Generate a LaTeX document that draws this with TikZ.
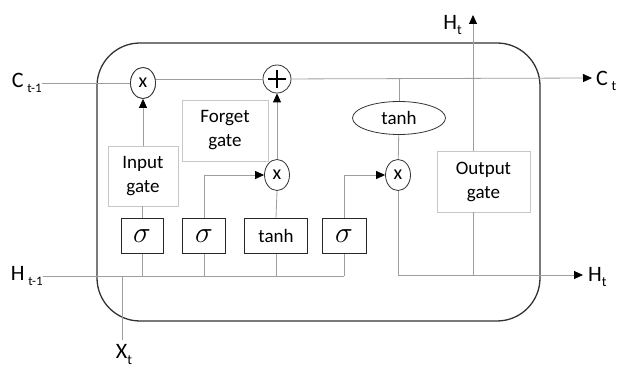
\documentclass[tikz,border=0pt]{standalone}
\usepackage{fontspec}
\setmainfont{Carlito}
\usetikzlibrary{arrows.meta,shapes.geometric,calc}
\begin{document}
\begin{tikzpicture}[x=1pt,y=-1pt,
  wire/.style={draw=black!38, line width=0.8pt},
  arr/.style={wire, -{Triangle[color=black,length=9pt,width=8pt]}},
  mult/.style={ellipse, draw=black!80, line width=0.8pt, fill=white, minimum width=25pt, minimum height=31pt, inner sep=0pt, font=\fontsize{20}{20}\selectfont},
  actbox/.style={rectangle, draw=black!85, line width=1pt, fill=white, minimum height=35pt, inner sep=0pt},
  gatebox/.style={rectangle, draw=black!22, line width=0.8pt, fill=white, inner sep=0pt, align=center, font=\fontsize{19}{24}\selectfont},
  lbl/.style={inner sep=0pt, font=\fontsize{22}{22}\selectfont},
  sig/.style={font=\fontsize{24}{24}\selectfont}
]
\useasboundingbox (0,0) rectangle (630,374);
\draw[black!80, line width=1.3pt, rounded corners=43pt] (97,43) rectangle (540,321);

% free ends
\coordinate (Cin) at (42,83);
\coordinate (Cout) at (592,78);
\coordinate (Hin) at (43,276);
\coordinate (Hout) at (583,275);
\coordinate (Htop) at (473,15);
\coordinate (Xin) at (122,340);
\coordinate (tj) at (399,78);

% nodes
\node[mult] (m1) at (143,83) {x};
\node[mult, minimum width=28pt, minimum height=28pt] (pl) at (277,79) {};
\node[mult] (m2) at (277,175) {x};
\node[mult] (m3) at (398,175) {x};
\node[ellipse, draw=black!80, line width=0.8pt, fill=white, minimum width=93pt, minimum height=33pt, inner sep=0pt, font=\fontsize{19}{19}\selectfont] (th) at (399,118) {tanh};

\node[actbox, minimum width=42pt, sig] (s1) at (142,236) {\scalebox{1.2}{$\sigma$}};
\node[actbox, minimum width=43pt, sig] (s2) at (204,236) {\scalebox{1.2}{$\sigma$}};
\node[actbox, minimum width=63pt, font=\fontsize{19}{19}\selectfont] (tb) at (276,236) {tanh};
\node[actbox, minimum width=44pt, sig] (s4) at (344,236) {\scalebox{1.2}{$\sigma$}};

\node[gatebox, minimum width=70pt, minimum height=60pt] (ig) at (143,176) {Input\\gate};
\node[gatebox, minimum width=86pt, minimum height=61pt] (fg) at (225,130.5) {Forget\\gate};
\node[gatebox, minimum width=93pt, minimum height=61pt] (og) at (483.5,181.5) {Output\\gate};

% wires
\draw[wire] (Cin) -- (m1);
\draw[wire] (m1.east |- pl) -- (pl);
\draw[arr] (pl) -- (Cout);
\draw[wire] (tj) -- (th);
\draw[wire] (th) -- (m3);
\draw[arr] (m3.south) |- (Hout);
\draw[wire] (Htop |- og.south) -- (Htop |- Hout);
\draw[arr] (Htop |- og.north) -- (Htop);
\draw[wire] (Hin) -- (s4.south |- Hin);
\draw[wire] (s1.south) -- (s1.south |- Hin);
\draw[wire] (s2.south) -- (s2.south |- Hin);
\draw[wire] (tb.south) -- (tb.south |- Hin);
\draw[wire] (s4.south) -- (s4.south |- Hin);
\draw[wire] (Xin) -- (Xin |- Hin);
\draw[wire] (s1.north) -- (s1.north |- ig.south);
\draw[arr] (m1.south |- ig.north) -- (m1.south);
\draw[arr] (s2.north) |- (m2.west);
\draw[wire] (tb.north) -- (m2.south);
\draw[arr] (m2.north) -- (pl.south);
\draw[arr] (s4.north) |- (m3.west);

% redraw m1 over the wire end
\node[mult] at (m1) {x};

% plus sign
\draw[black, line width=1.3pt] ($(pl.center)+(-9,0)$) -- ($(pl.center)+(9,0)$) ($(pl.center)+(0,-9)$) -- ($(pl.center)+(0,9)$);

% labels
\node[lbl, anchor=east] (lCin) at (Cin) {C\,\raisebox{-0.55ex}{\fontsize{13}{13}\selectfont t-1}};
\node[lbl, anchor=east] (lHin) at (Hin) {H\,\raisebox{-0.55ex}{\fontsize{13}{13}\selectfont t-1}};
\node[lbl, anchor=west] (lCout) at ($(Cout)+(4,3)$) {C\,\raisebox{-0.55ex}{\fontsize{14}{14}\selectfont t}};
\node[lbl, anchor=west] (lHout) at ($(Hout)+(5,2)$) {H\raisebox{-0.55ex}{\fontsize{14}{14}\selectfont t}};
\node[lbl, anchor=east] (lHtop) at ($(Htop)+(-11,10)$) {H\raisebox{-0.55ex}{\fontsize{14}{14}\selectfont t}};
\node[lbl, anchor=north] (lX) at ($(Xin)+(2,4)$) {X\raisebox{-0.55ex}{\fontsize{14}{14}\selectfont t}};
\end{tikzpicture}
\end{document}
